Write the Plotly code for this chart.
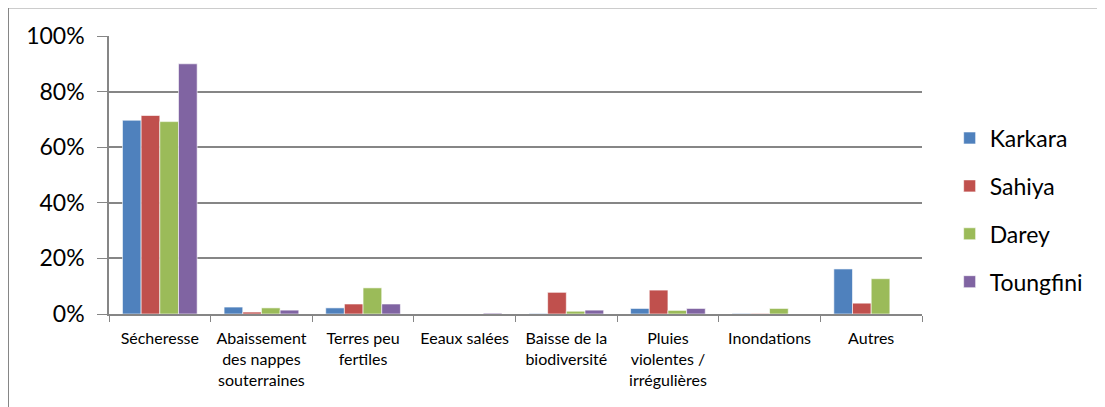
import plotly.graph_objects as go

categories = [
    "Sécheresse",
    "Abaissement<br>des nappes<br>souterraines",
    "Terres peu<br>fertiles",
    "Eeaux salées",
    "Baisse de la<br>biodiversité",
    "Pluies<br>violentes /<br>irrégulières",
    "Inondations",
    "Autres",
]

karkara = [69.7, 2.5, 2.2, 0.0, 0.2, 2.0, 0.2, 16.2]
sahiya = [71.4, 0.7, 3.6, 0.0, 7.8, 8.6, 0.2, 3.9]
darey = [69.2, 2.2, 9.4, 0.0, 1.0, 1.3, 2.0, 12.7]
toungfini = [90.0, 1.4, 3.6, 0.3, 1.4, 2.0, 0.0, 0.0]

series = [
    ("Karkara", karkara, "#4F81BD"),
    ("Sahiya", sahiya, "#C0504D"),
    ("Darey", darey, "#9BBB59"),
    ("Toungfini", toungfini, "#8064A2"),
]

fig = go.Figure()
for name, vals, color in series:
    fig.add_trace(go.Bar(
        x=categories, y=[v / 100 for v in vals], name=name,
        marker=dict(color=color, line=dict(color="white", width=0.6)),
        legendgroup=name,
    ))

# page body has an 8px margin, so the figure is a bit smaller than the window
fig.update_layout(
    width=1097, height=399,
    paper_bgcolor="white", plot_bgcolor="white",
    margin=dict(l=101, r=183, t=28, b=93),
    font=dict(family="Lato, Liberation Sans, sans-serif", color="black"),
    barmode="group", bargap=0.265, bargroupgap=0,
    showlegend=True,
    legend=dict(
        x=1.034, y=0.374, xanchor="left", yanchor="middle",
        font=dict(size=23), traceorder="grouped", tracegroupgap=15,
        itemwidth=30,
    ),
    xaxis=dict(
        tickson="boundaries", ticks="outside", ticklen=6, tickcolor="#868686",
        showline=True, linecolor="#868686", linewidth=1.5,
        ticklabelstandoff=9,
        tickfont=dict(size=16), showgrid=False,
    ),
    yaxis=dict(
        range=[0, 1], dtick=0.2, tickformat=".0%",
        showgrid=True, gridcolor="#868686", gridwidth=1.5,
        showline=True, linecolor="#868686", linewidth=1.5,
        ticks="outside", ticklen=10, tickcolor="#868686",
        ticklabelstandoff=8,
        tickfont=dict(size=23), zeroline=False,
    ),
    shapes=[dict(
        type="rect", xref="paper", yref="paper",
        x0=-0.1236, x1=1.3, y0=-0.5, y1=1.101,
        line=dict(color="#868686", width=1), fillcolor="rgba(0,0,0,0)",
    )],
)

fig.write_html("out.html")
